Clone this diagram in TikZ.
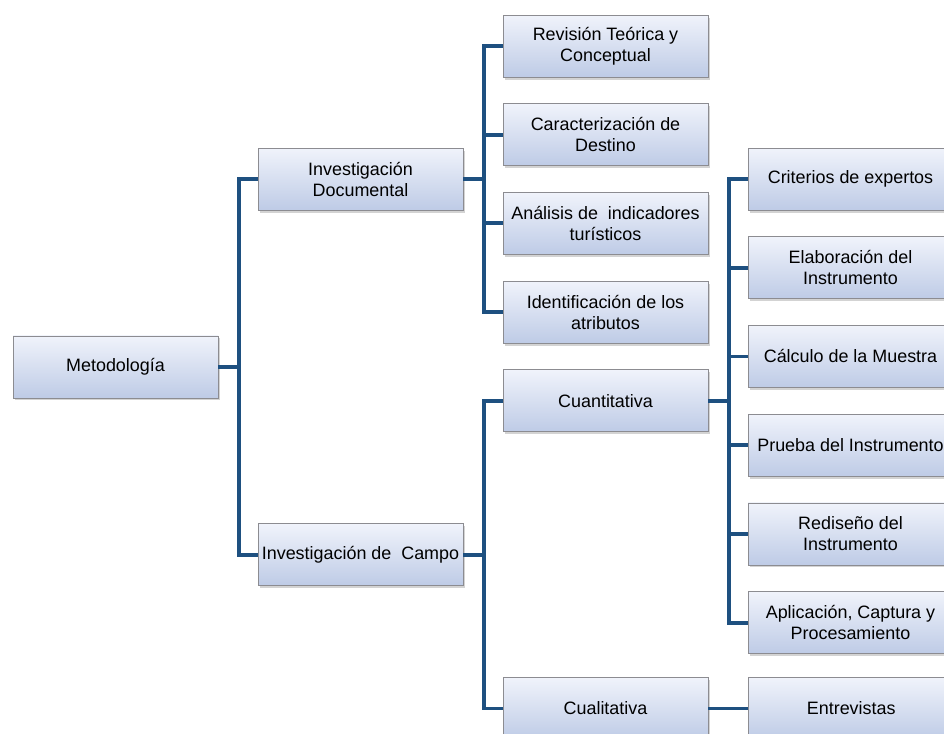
\documentclass[tikz,border=0pt]{standalone}
\usepackage{fontspec}
\setmainfont{Liberation Sans}
\usetikzlibrary{positioning, calc, shadows}
\definecolor{linkblue}{RGB}{30,80,128}
\definecolor{boxtop}{RGB}{240,243,251}
\definecolor{boxbot}{RGB}{190,203,230}
\definecolor{boxline}{RGB}{140,140,145}
\tikzset{
  box/.style={rectangle, draw=boxline, top color=boxtop, bottom color=boxbot,
              minimum width=4.1cm, minimum height=1.24cm, align=center,
              inner xsep=1pt, font=\fontsize{10.2}{12}\selectfont, text=black,
              drop shadow={shadow xshift=0.04cm, shadow yshift=-0.05cm, opacity=0.35}},
  link/.style={draw=linkblue, line width=2.2pt},
}

\begin{document}
\begin{tikzpicture}[node distance=0.52cm and 0.8cm]
  \useasboundingbox (0,0) rectangle (18.88,-14.66);
  \clip (0,0) rectangle (18.88,-14.66);

  % Second column
  \node[box] (rev) at (12.11,-0.92) {Revisión Teórica y\\Conceptual};
  \node[box, below=of rev] (car) {Caracterización de\\Destino};
  \node[box, below=of car] (ana) {Análisis de\ \ indicadores\\turísticos};
  \node[box, below=of ana] (ide) {Identificación de los\\atributos};
  \node[box, below=of ide] (cuan) {Cuantitativa};
  \node[box, below=4.9cm of cuan] (cual) {Cualitativa};

  % First column
  \node[box] (doc) at ($(rev)!0.5!(ide) + (-4.9,0)$) {Investigación\\Documental};
  \node[box] (campo) at ($(cuan)!0.5!(cual) + (-4.9,0)$) {Investigación de\ \ Campo};
  \node[box] (metodo) at ($(doc)!0.5!(campo) + (-4.9,0)$) {Metodología};

  % Third column
  \node[box] (crit) at ($(doc) + (9.8,0)$) {Criterios de expertos};
  \node[box, below=of crit] (elab) {Elaboración del\\Instrumento};
  \node[box, below=of elab] (calc) {Cálculo de la Muestra};
  \node[box, below=of calc] (prueba) {Prueba del Instrumento};
  \node[box, below=of prueba] (redis) {Rediseño del\\Instrumento};
  \node[box, below=of redis] (aplic) {Aplicación, Captura y\\Procesamiento};
  \node[box, right=of cual] (entrev) {Entrevistas};

  % Connectors
  \foreach \n in {doc, campo}
    \draw[link] (metodo.east) -- ++(0.42,0) |- (\n.west);
  \foreach \n in {rev, car, ana, ide}
    \draw[link] (doc.east) -- ++(0.42,0) |- (\n.west);
  \foreach \n in {cuan, cual}
    \draw[link] (campo.east) -- ++(0.42,0) |- (\n.west);
  \foreach \n in {crit, elab, calc, prueba, redis, aplic}
    \draw[link] (cuan.east) -- ++(0.42,0) |- (\n.west);
  \draw[link] (cual) -- (entrev);
\end{tikzpicture}
\end{document}
